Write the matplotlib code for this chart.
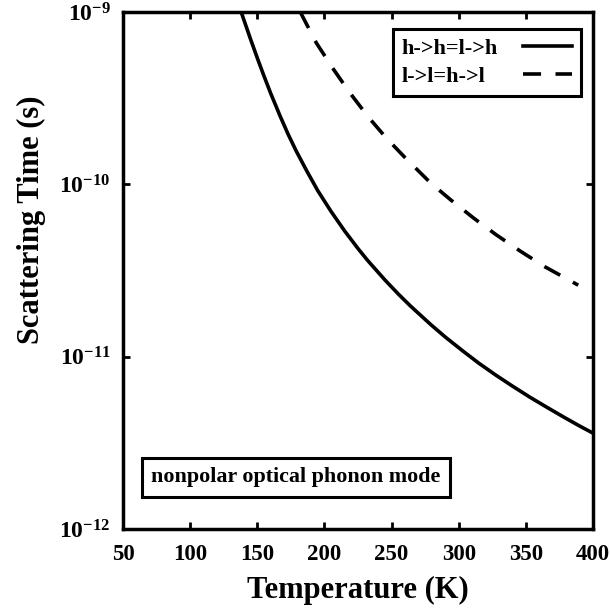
import matplotlib
matplotlib.use("Agg")
import matplotlib.pyplot as plt
from matplotlib.ticker import FixedLocator, NullLocator

plt.rcParams['font.family'] = ['Liberation Serif', 'DejaVu Serif']
plt.rcParams['font.weight'] = 'bold'
plt.rcParams['mathtext.fontset'] = 'custom'
plt.rcParams['mathtext.rm'] = 'Liberation Serif:bold'
plt.rcParams['mathtext.bf'] = 'Liberation Serif:bold'

# h->h = l->h (solid), temperature in K, scattering time in s
temp_hh = [138, 145, 150, 155, 160, 167, 173, 179, 187, 195, 205, 215, 225, 232,
           245, 255, 264, 279, 290, 303, 315, 328, 340, 353, 365, 378, 390, 400]
tau_hh = [1.00e-9, 6.95e-10, 5.41e-10, 4.25e-10, 3.37e-10, 2.49e-10, 1.95e-10,
          1.56e-10, 1.19e-10, 9.20e-11, 6.95e-11, 5.37e-11, 4.24e-11, 3.63e-11,
          2.79e-11, 2.31e-11, 1.97e-11, 1.54e-11, 1.30e-11, 1.08e-11, 9.16e-12,
          7.78e-12, 6.75e-12, 5.82e-12, 5.12e-12, 4.47e-12, 3.96e-12, 3.60e-12]

# l->l = h->l (dashed)
temp_ll = [182, 194, 207, 219, 233, 246, 260, 279, 294, 311, 328, 346, 364, 389]
tau_ll = [1.00e-9, 6.61e-10, 4.62e-10, 3.39e-10, 2.44e-10, 1.86e-10, 1.43e-10,
          1.02e-10, 8.13e-11, 6.38e-11, 5.09e-11, 4.09e-11, 3.33e-11, 2.60e-11]

x_ticks = [50, 100, 150, 200, 250, 300, 350, 400]
y_ticks = [1e-12, 1e-11, 1e-10, 1e-9]
y_ticklabels = [r'$\mathbf{10^{-12}}$', r'$\mathbf{10^{-11}}$',
                r'$\mathbf{10^{-10}}$', r'$\mathbf{10^{-9}}$']

fig = plt.figure(figsize=(6.1, 6.1), dpi=100)
ax = fig.add_axes([123/610, 1-529/610, 470/610, 517/610])

ax.plot(temp_hh, tau_hh, color='black', lw=2.6, label='h->h=l->h')
ax.plot(temp_ll, tau_ll, color='black', lw=2.6, ls=(0, (5, 4)), label='l->l=h->l')

ax.set_yscale('log')
ax.set_xlim(50, 400)
ax.set_ylim(1e-12, 1e-9)

ax.xaxis.set_major_locator(FixedLocator(x_ticks))
ax.xaxis.set_minor_locator(NullLocator())
ax.set_yticks(y_ticks)
ax.set_yticklabels(y_ticklabels)
ax.yaxis.set_minor_locator(NullLocator())

ax.tick_params(direction='in', top=True, right=True, length=5, width=2)
ax.tick_params(axis='x', labelsize=16.5, pad=11)
ax.tick_params(axis='y', labelsize=17, pad=9)
for lbl in ax.get_xticklabels():
    lbl.set_fontweight('bold')

for sp in ax.spines.values():
    sp.set_linewidth(2.5)

ax.set_xlabel('Temperature (K)', fontsize=22, fontweight='bold', labelpad=8)
ax.set_ylabel('Scattering Time (s)', fontsize=22, fontweight='bold')
ax.yaxis.set_label_coords(-0.164, 0.598)

leg = ax.legend(loc='upper right', bbox_to_anchor=(0.974, 0.967),
                markerfirst=False, fancybox=False, framealpha=1,
                edgecolor='black', fontsize=16, handlelength=2.2,
                borderpad=0.4, labelspacing=0.34, handletextpad=1.0,
                borderaxespad=0)
leg.get_frame().set_linewidth(2.2)
for t in leg.get_texts():
    t.set_fontweight('bold')
# left-align labels, keep the line samples on the right edge
for col in leg._legend_handle_box.get_children():
    for item in col.get_children():
        item.mode = 'expand'
        item.width = 170

ax.text(0.368, 0.10, 'nonpolar optical phonon mode', transform=ax.transAxes,
        ha='center', va='center', fontsize=15.8, fontweight='bold',
        bbox=dict(boxstyle='square,pad=0.42', fc='white', ec='black', lw=2.2))

fig.savefig('out.png', dpi=100)
